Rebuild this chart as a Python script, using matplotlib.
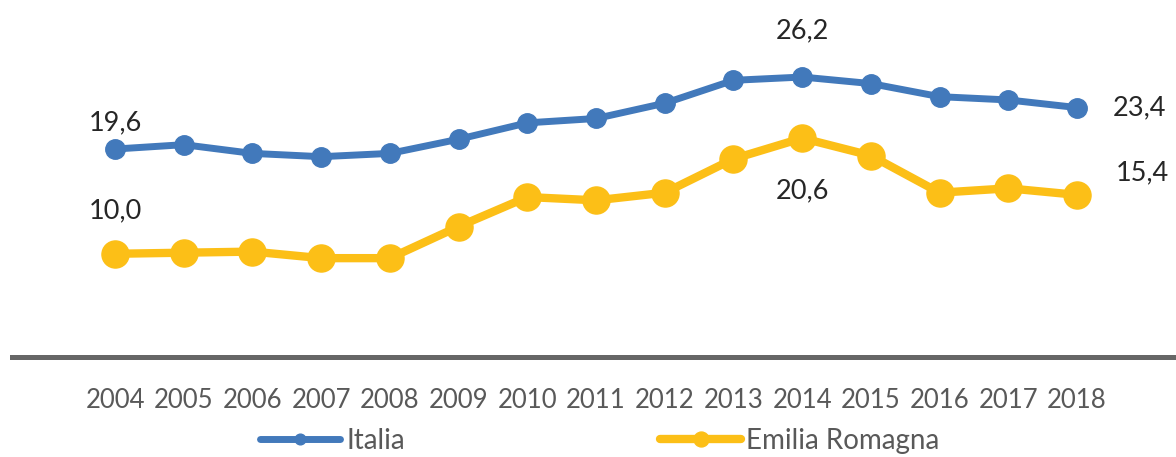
import matplotlib
matplotlib.use('Agg')
import matplotlib.pyplot as plt

years = ['2004', '2005', '2006', '2007', '2008', '2009', '2010', '2011',
         '2012', '2013', '2014', '2015', '2016', '2017', '2018']
italia = [19.6, 20.0, 19.2, 18.9, 19.2, 20.5, 22.0, 22.4, 23.8, 25.9,
          26.2, 25.6, 24.4, 24.1, 23.4]
emilia = [10.0, 10.1, 10.2, 9.6, 9.6, 12.5, 15.2, 14.9, 15.6, 18.7,
          20.6, 19.0, 15.6, 16.0, 15.4]

blue = '#4279bb'
yellow = '#fcbf17'
plt.rcParams['font.family'] = ['Lato', 'DejaVu Sans']

fig = plt.figure(figsize=(11.76, 4.57), dpi=100)
ax = fig.add_axes([12 / 1176, 1 - 357 / 457, 1 - 12 / 1176, 357 / 457])
x = list(range(len(years)))
ax.plot(x, italia, color=blue, lw=5, marker='o', ms=14, label='Italia',
        solid_capstyle='round')
ax.plot(x, emilia, color=yellow, lw=6, marker='o', ms=19.5,
        label='Emilia Romagna', solid_capstyle='round')

ax.set_xlim(-1.5, 15.44)
ax.set_ylim(0.54, 33.26)
ax.set_yticks([])
ax.set_xticks(x)
ax.set_xticklabels(years, fontsize=18.5, color='#595959')
ax.tick_params(axis='x', length=0, pad=22)
for s in ['top', 'left', 'right']:
    ax.spines[s].set_visible(False)
ax.spines['bottom'].set_color('#666666')
ax.spines['bottom'].set_linewidth(3.6)

# etichette dei valori
lab = dict(fontsize=19.5, color='#262626', textcoords='offset points')
ax.annotate('19,6', (0, italia[0]), xytext=(0, 19), ha='center', va='center', **lab)
ax.annotate('10,0', (0, emilia[0]), xytext=(0, 31), ha='center', va='center', **lab)
ax.annotate('26,2', (10, italia[10]), xytext=(0, 33), ha='center', va='center', **lab)
ax.annotate('20,6', (10, emilia[10]), xytext=(0, -38), ha='center', va='center', **lab)
ax.annotate('23,4', (14, italia[14]), xytext=(26, 0), ha='left', va='center', **lab)
ax.annotate('15,4', (14, emilia[14]), xytext=(28, 16), ha='left', va='center', **lab)

fig.legend(loc='center', bbox_to_anchor=(0.51, 1 - 441 / 457), ncol=2,
           frameon=False, fontsize=20, labelcolor='#595959',
           handlelength=2.9, handletextpad=0.2, columnspacing=9.2,
           markerscale=0.55)

fig.savefig('out.png', dpi=100)
